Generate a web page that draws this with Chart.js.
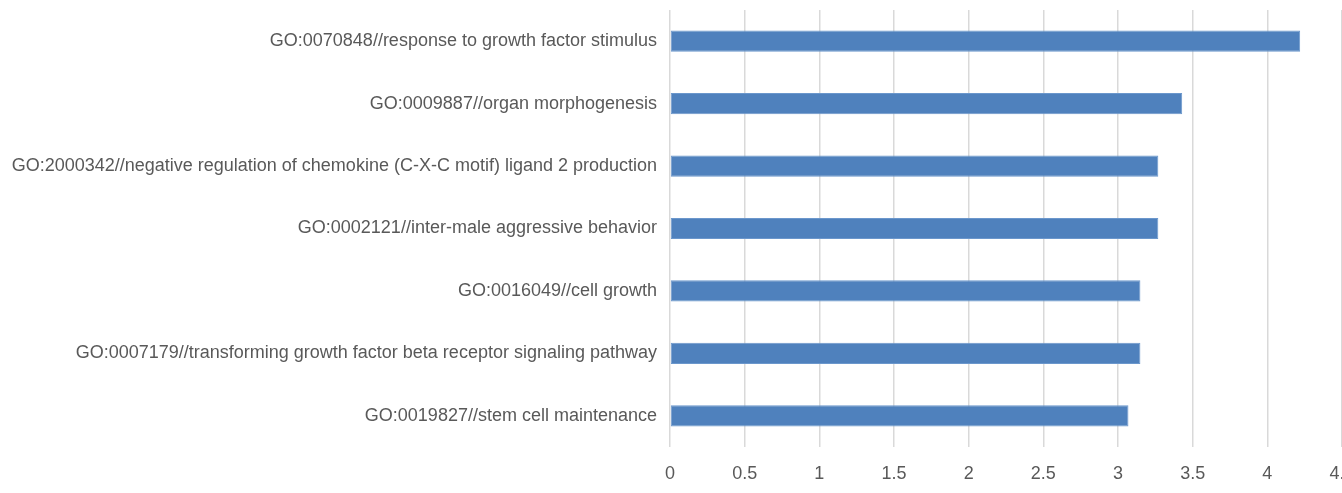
<!DOCTYPE html>
<html>
<head>
<meta charset="utf-8">
<script src="https://cdn.jsdelivr.net/npm/chart.js@4/dist/chart.umd.min.js"></script>
<style>
  html, body { margin: 0; padding: 0; background: #fff; overflow: hidden; }
  #wrap { width: 1370px; height: 493px; position: relative; }
</style>
</head>
<body>
<div id="wrap"><canvas id="chart"></canvas></div>
<script>
// GO terms, top to bottom as in the picture
const terms = [
  "GO:0070848//response to growth factor stimulus",
  "GO:0009887//organ morphogenesis",
  "GO:2000342//negative regulation of chemokine (C-X-C motif) ligand 2 production",
  "GO:0002121//inter-male aggressive behavior",
  "GO:0016049//cell growth",
  "GO:0007179//transforming growth factor beta receptor signaling pathway",
  "GO:0019827//stem cell maintenance"
];
const scores = [4.22, 3.43, 3.27, 3.27, 3.15, 3.15, 3.07];
const xMin = 0;
const xMax = 4.5;
const xStep = 0.5;

const labelColor = '#595959';
const gridColor = '#d9d9d9';
const barColor = '#4f81bd';

const config = {
  type: 'bar',
  data: {
    labels: terms,
    datasets: [{
      data: scores,
      backgroundColor: barColor,
      borderColor: '#6b97cc',
      borderWidth: 1,
      borderSkipped: false,
      barPercentage: 0.34,
      categoryPercentage: 1
    }]
  },
  options: {
    indexAxis: 'y',
    responsive: true,
    maintainAspectRatio: false,
    animation: false,
    layout: {
      padding: { top: 10, right: 28, bottom: 0, left: 0 }
    },
    plugins: {
      legend: { display: false },
      tooltip: { enabled: false }
    },
    scales: {
      x: {
        min: xMin,
        max: xMax,
        afterFit(scale) {
          scale.height = 46;
          scale.paddingLeft = 0;
          scale.paddingRight = 0;
        },
        ticks: {
          stepSize: xStep,
          color: labelColor,
          padding: 16,
          maxRotation: 0,
          callback: (v) => String(v),
          font: { family: 'Liberation Sans', size: 18 }
        },
        grid: {
          color: gridColor,
          lineWidth: 1.5,
          drawTicks: false
        },
        border: { display: false }
      },
      y: {
        afterFit(scale) {
          scale.width = 670;
          scale.paddingTop = 0;
          scale.paddingBottom = 0;
        },
        ticks: {
          color: labelColor,
          padding: 13,
          autoSkip: false,
          font: { family: 'Liberation Sans', size: 18 }
        },
        grid: { display: false, drawTicks: false },
        border: { display: false }
      }
    }
  }
};

new Chart(document.getElementById('chart'), config);
</script>
</body>
</html>
